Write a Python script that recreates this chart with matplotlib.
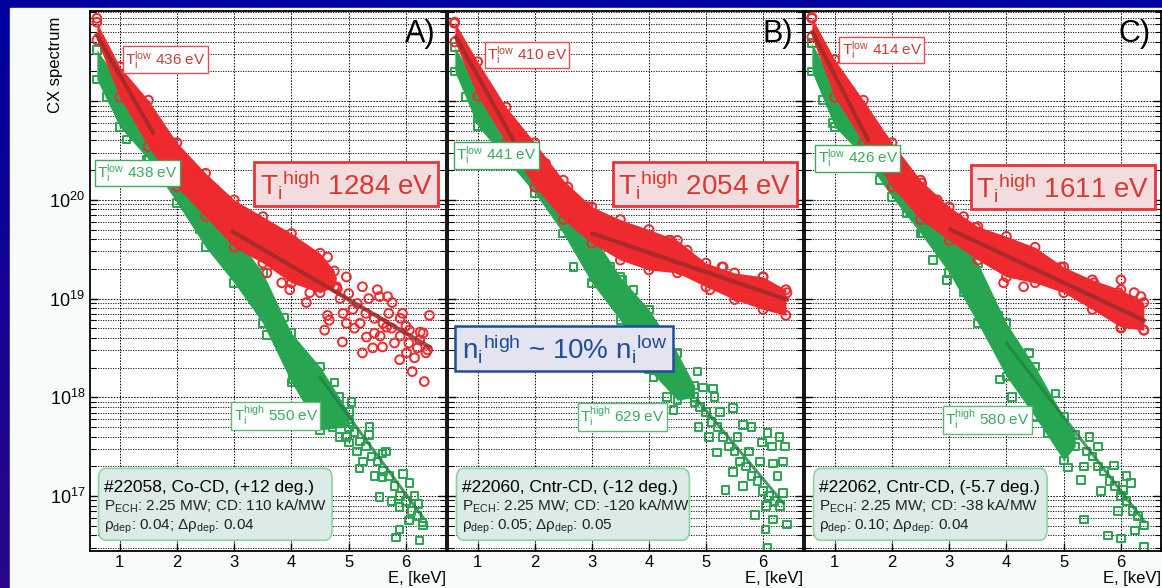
import numpy as np
import matplotlib.pyplot as plt
from matplotlib.patches import Rectangle, FancyBboxPatch
from matplotlib.ticker import LogLocator, NullFormatter, FuncFormatter

plt.rcParams['font.family'] = ['Liberation Sans', 'DejaVu Sans']
plt.rcParams['mathtext.default'] = 'regular'

# values as log10(CX spectrum)
# ---- panel A: #22058
red_a_E = [0.6, 1.0, 1.5, 2.0, 2.5, 3.0, 3.5, 4.0, 4.5, 4.75]
red_a_hi = [21.80, 21.35, 21.01, 20.58, 20.27, 20.00, 19.83, 19.66, 19.46, 19.28]
red_a_lo = [21.62, 21.04, 20.54, 20.13, 19.83, 19.52, 19.36, 19.16, 19.06, 19.12]
red_a_pts_E = [0.60, 3.39, 3.79, 4.02, 4.63, 4.96, 5.24, 5.50, 5.68, 4.79, 4.32, 3.83, 3.57,
               3.97, 4.26, 4.63, 4.66, 4.58, 4.89, 5.24, 5.42, 5.59, 5.89, 6.11, 6.32, 6.38,
               6.41, 5.94, 5.76, 5.54, 5.07, 4.96, 5.31, 5.66, 6.06, 6.24, 6.01, 4.70, 4.85,
               5.00, 5.15, 5.30, 5.45, 5.60, 5.75, 5.90, 6.05, 6.20, 6.35, 5.10, 5.45, 5.80,
               6.15, 4.90, 5.35, 5.90, 6.30, 1.75, 1.92, 2.17, 2.62, 2.80, 3.10, 3.74, 4.45,
               5.20, 5.70, 6.00, 6.25, 4.80, 5.55]
red_a_pts = [21.84, 19.77, 19.66, 19.59, 19.42, 19.22, 19.12, 19.09, 19.02, 19.12, 19.06, 19.16,
             19.26, 19.09, 18.96, 18.83, 18.78, 18.68, 18.56, 18.45, 18.50, 18.51, 18.38, 18.26,
             18.16, 18.48, 18.83, 18.85, 18.96, 19.02, 18.89, 18.75, 18.61, 18.71, 18.68, 18.58,
             18.45, 19.20, 19.00, 19.05, 18.95, 18.85, 18.80, 18.75, 18.70, 18.62, 18.55, 18.50,
             18.45, 18.70, 18.65, 18.55, 18.40, 18.85, 19.00, 18.80, 18.65, 20.66, 20.58, 20.37,
             20.10, 19.92, 19.83, 19.66, 19.35, 18.75, 18.85, 18.72, 18.66, 19.10, 18.62]
green_a_E = [0.6, 1.0, 1.5, 2.0, 2.5, 3.0, 3.5, 4.0, 4.5, 5.0]
green_a_hi = [21.52, 21.19, 20.81, 20.48, 20.07, 19.66, 19.26, 18.65, 18.31, 17.85]
green_a_lo = [21.22, 20.74, 20.41, 19.97, 19.52, 19.16, 18.75, 18.15, 17.67, 17.70]
green_a_pts_E = [3.57, 3.88, 4.02, 4.20, 4.84, 4.32, 4.72, 4.84, 5.36, 5.01, 5.59, 5.54, 5.83,
                 5.89, 6.24, 6.06, 6.29, 5.89, 5.19, 5.59, 4.60, 4.70, 4.80, 4.90, 5.00, 5.10,
                 5.20, 5.30, 5.40, 5.50, 5.60, 5.70, 5.80, 5.90, 6.00, 6.10, 6.20, 6.30, 4.65,
                 4.95, 5.25, 5.45, 5.75, 6.05, 6.15, 5.65, 5.05, 4.75, 0.77, 1.12, 1.47, 2.40,
                 2.69, 2.97, 3.22, 3.32, 5.15, 5.35, 5.95, 6.22, 4.45]
green_a_pts = [18.63, 18.81, 18.18, 18.09, 18.00, 17.97, 17.70, 17.60, 17.70, 17.54, 17.43,
               16.99, 16.58, 16.66, 16.55, 17.13, 16.73, 16.89, 17.28, 17.19, 18.10, 17.95,
               17.90, 17.80, 17.75, 17.65, 17.55, 17.50, 17.40, 17.35, 17.25, 17.20, 17.10,
               17.00, 16.95, 16.85, 16.80, 16.70, 17.80, 17.60, 17.35, 17.20, 16.95, 16.75,
               17.00, 17.45, 17.95, 18.15, 21.04, 20.61, 20.41, 19.70, 19.59, 19.32, 19.19,
               19.06, 17.45, 17.62, 17.22, 16.92, 17.85]
fit_a_lo_E, fit_a_lo = [0.60, 1.58], [21.67, 20.68]
fit_a_hi_E, fit_a_hi = [2.97, 6.41], [19.68, 18.51]
fit_a_g_E, fit_a_g = [4.50, 6.30], [18.20, 16.78]

# ---- panel B: #22060
red_b_E = [0.6, 1.0, 1.5, 2.0, 2.5, 3.0, 3.5, 4.0, 4.5, 5.0, 5.5, 6.0, 6.4]
red_b_hi = [21.80, 21.40, 20.94, 20.58, 20.20, 19.93, 19.80, 19.70, 19.59, 19.36, 19.26, 19.22, 19.09]
red_b_lo = [21.60, 21.05, 20.58, 20.13, 19.80, 19.56, 19.39, 19.29, 19.26, 19.12, 18.99, 18.89, 18.83]
red_b_pts_E = [0.59, 2.19, 2.89, 3.47, 3.85, 4.34, 5.28, 6.00, 6.42, 5.07, 5.55, 4.67, 1.88,
               2.58, 2.93, 3.80, 4.38, 5.30, 3.97, 4.55, 4.90, 5.47, 6.17]
red_b_pts = [21.79, 20.37, 19.88, 19.70, 19.66, 19.59, 19.32, 19.22, 19.06, 19.09, 19.02, 19.49,
             20.58, 20.13, 19.93, 19.66, 19.59, 19.32, 19.36, 19.29, 19.22, 19.06, 19.02]
green_b_E = [0.6, 1.0, 1.5, 2.0, 2.5, 3.0, 3.5, 4.0, 4.5, 4.8]
green_b_hi = [21.55, 21.15, 20.74, 20.44, 20.07, 19.66, 19.22, 18.89, 18.45, 18.12]
green_b_lo = [21.30, 20.75, 20.41, 20.07, 19.66, 19.16, 18.78, 18.28, 17.97, 18.00]
green_b_pts_E = [4.85, 5.12, 4.95, 5.47, 5.65, 5.98, 6.16, 6.38, 6.29, 6.08, 5.80, 5.34, 5.47,
                 5.86, 6.17, 6.42, 6.04, 6.08, 4.08, 4.32, 4.43, 4.87, 5.19, 6.17, 6.35, 4.60,
                 4.70, 4.80, 4.90, 5.00, 5.10, 5.20, 5.30, 5.40, 5.50, 5.60, 5.70, 5.80, 5.90,
                 6.00, 6.10, 6.20, 6.30, 5.05, 5.25, 5.55, 5.75, 5.95, 6.25, 5.15, 5.65, 6.05,
                 6.35, 0.80, 1.00, 1.29, 1.93, 2.33, 2.68, 3.03, 3.33, 3.54, 3.73]
green_b_pts = [18.26, 18.09, 18.10, 17.89, 17.72, 17.54, 17.50, 17.50, 17.60, 17.64, 17.70,
               17.06, 17.24, 16.81, 16.76, 16.71, 16.66, 16.47, 18.20, 18.00, 17.87, 17.70,
               17.44, 17.33, 17.03, 18.15, 18.05, 17.95, 17.90, 17.85, 17.75, 17.70, 17.60,
               17.50, 17.45, 17.35, 17.30, 17.20, 17.15, 17.05, 17.00, 16.95, 16.90, 17.60,
               17.85, 17.60, 17.45, 17.35, 17.20, 18.00, 17.10, 16.90, 17.35, 21.04, 20.84,
               20.68, 20.23, 19.93, 19.32, 19.22, 19.32, 19.19, 19.09]
fit_b_lo_E, fit_b_lo = [0.62, 1.62], [21.65, 20.61]
fit_b_hi_E, fit_b_hi = [3.01, 6.42], [19.66, 18.99]
fit_b_g_E, fit_b_g = [4.85, 6.35], [17.97, 16.93]

# ---- panel C: #22062
red_c_E = [0.6, 1.0, 1.5, 2.0, 2.5, 3.0, 3.5, 4.0, 4.5, 5.0, 5.5, 6.0, 6.4]
red_c_hi = [21.85, 21.42, 21.01, 20.58, 20.20, 19.93, 19.73, 19.63, 19.52, 19.32, 19.19, 19.09, 18.96]
red_c_lo = [21.65, 21.04, 20.58, 20.13, 19.80, 19.59, 19.39, 19.22, 19.16, 19.06, 18.89, 18.71, 18.68]
red_c_pts_E = [2.79, 3.25, 3.46, 3.95, 4.30, 4.65, 5.25, 5.53, 5.96, 6.23, 5.77, 6.00, 6.35, 6.40,
               2.14, 2.52, 4.95, 6.00, 0.60]
red_c_pts = [20.00, 19.83, 19.72, 19.16, 19.12, 19.32, 19.12, 19.16, 19.06, 19.06, 18.89,
             18.70, 19.02, 18.68, 20.37, 20.17, 19.32, 19.19, 21.84]
green_c_E = [0.6, 1.0, 1.5, 2.0, 2.5, 3.0, 3.5, 4.0, 4.5, 5.0, 5.2]
green_c_hi = [21.59, 21.15, 20.78, 20.44, 20.07, 19.73, 19.36, 18.75, 18.31, 17.80, 17.62]
green_c_lo = [21.30, 20.74, 20.44, 20.03, 19.66, 19.26, 18.75, 18.21, 17.80, 17.36, 17.50]
green_c_pts_E = [3.86, 4.39, 3.89, 4.10, 4.86, 4.72, 5.07, 5.35, 5.60, 5.88, 6.18, 5.77, 6.00,
                 6.40, 6.04, 5.30, 5.40, 5.50, 5.60, 5.70, 5.80, 5.90, 6.00, 6.10, 6.20, 6.30,
                 6.40, 5.35, 5.65, 5.95, 6.25, 5.45, 6.10, 0.79, 0.96, 1.39, 1.79, 2.26, 2.54,
                 2.72, 2.96, 3.25]
green_c_pts = [18.83, 18.45, 18.18, 18.00, 18.04, 17.64, 17.29, 16.76, 17.50, 17.31, 17.13,
               16.60, 16.57, 16.48, 17.06, 17.16, 17.45, 17.40, 17.30, 17.25, 17.15, 17.10,
               17.00, 16.95, 16.85, 16.80, 16.70, 17.30, 17.05, 16.85, 16.65, 17.60, 17.20,
               21.01, 20.78, 20.51, 20.20, 19.87, 19.66, 19.39, 19.19, 19.06]
fit_c_lo_E, fit_c_lo = [0.61, 1.58], [21.70, 20.61]
fit_c_hi_E, fit_c_hi = [3.02, 6.40], [19.70, 18.78]
fit_c_g_E, fit_c_g = [4.00, 6.40], [18.55, 16.75]

panel_tags = ['A)', 'B)', 'C)']
ti_low_red = ['436 eV', '410 eV', '414 eV']
ti_low_green = ['438 eV', '441 eV', '426 eV']
ti_high_red = ['1284 eV', '2054 eV', '1611 eV']
ti_high_green = ['550 eV', '629 eV', '580 eV']
shot_lines = ['#22058, Co-CD, (+12 deg.)', '#22060, Cntr-CD, (-12 deg.)', '#22062, Cntr-CD, (-5.7 deg.)']
cd_lines = ['110 kA/MW', '-120 kA/MW', '-38 kA/MW']
rho_lines = [('0.04', '0.04'), ('0.05', '0.05'), ('0.10', '0.04')]

RED = '#EE2A2E'
GREEN = '#28A550'
RED_FIT = '#9E2A2A'
GREEN_FIT = '#1E8440'


def v(a):
    return 10.0 ** np.asarray(a)


def band(ax, E, hi, lo, pE, p, color, marker, s, z):
    ax.fill_between(E, v(lo), v(hi), color=color, lw=0, zorder=z)
    for yy in (hi, lo):
        ax.scatter(E, v(yy), marker=marker, s=s, facecolors='none', edgecolors=color,
                   linewidths=1.4, zorder=z)
    ax.scatter(pE, v(p), marker=marker, s=s, facecolors='none', edgecolors=color,
               linewidths=1.4, zorder=z)


def ylab(val, pos):
    if val > 5e20:
        return ''
    return r'$10^{%d}$' % round(np.log10(val))


fig = plt.figure(figsize=(11.62, 5.88), dpi=100)

# slide background
bg = fig.add_axes([0, 0, 1, 1], zorder=0)
top = np.array([0, 0, 158]) / 255
bot = np.array([42, 8, 135]) / 255
t = np.linspace(0, 1, 200)[:, None, None]
bg.imshow(top + (bot - top) * t, aspect='auto', extent=[0, 1162, 588, 0])
bg.add_patch(Rectangle((10, 8), 1152, 580, color='#F7FBFC'))
bg.set_xlim(0, 1162)
bg.set_ylim(588, 0)
bg.axis('off')

panels = [
    (red_a_E, red_a_hi, red_a_lo, red_a_pts_E, red_a_pts, green_a_E, green_a_hi, green_a_lo,
     green_a_pts_E, green_a_pts, fit_a_lo_E, fit_a_lo, fit_a_hi_E, fit_a_hi, fit_a_g_E, fit_a_g),
    (red_b_E, red_b_hi, red_b_lo, red_b_pts_E, red_b_pts, green_b_E, green_b_hi, green_b_lo,
     green_b_pts_E, green_b_pts, fit_b_lo_E, fit_b_lo, fit_b_hi_E, fit_b_hi, fit_b_g_E, fit_b_g),
    (red_c_E, red_c_hi, red_c_lo, red_c_pts_E, red_c_pts, green_c_E, green_c_hi, green_c_lo,
     green_c_pts_E, green_c_pts, fit_c_lo_E, fit_c_lo, fit_c_hi_E, fit_c_hi, fit_c_g_E, fit_c_g),
]
lefts = [90, 448, 805]
widths = [356, 355, 356]
# label anchor positions (E, log10 y)
low_red_pos = [(1.10, 21.42), (1.16, 21.47), (1.12, 21.52)]
low_green_pos = [(0.60, 20.27), (0.62, 20.45), (0.70, 20.42)]
big_pos = [(4.96, 20.16), (4.98, 20.16), (4.98, 20.13)]
high_green_pos = [(2.99, 17.81), (2.80, 17.80), (2.93, 17.77)]

for i, d in enumerate(panels):
    (rE, rhi, rlo, rpE, rp, gE, ghi, glo, gpE, gp, flE, fl, fhE, fh, fgE, fg) = d
    ax = fig.add_axes([lefts[i] / 1162, 37 / 588, widths[i] / 1162, 540 / 588], zorder=2)
    ax.set_facecolor('white')
    ax.set_yscale('log')
    ax.set_xlim(0.48, 6.7)
    ax.set_ylim(2.77e16, 8.2e21)
    ax.set_xticks([1, 2, 3, 4, 5, 6])
    ax.yaxis.set_major_locator(LogLocator(base=10, numticks=20))
    ax.yaxis.set_major_formatter(FuncFormatter(ylab))
    ax.yaxis.set_minor_locator(LogLocator(base=10, subs=np.arange(2, 10), numticks=60))
    ax.yaxis.set_minor_formatter(NullFormatter())
    ax.grid(which='major', ls=(0, (1.5, 1.5)), color='k', lw=0.7)
    ax.grid(which='minor', axis='y', ls=(0, (1.5, 1.5)), color='k', lw=0.6)
    ax.set_axisbelow(True)
    ax.tick_params(which='both', direction='in', right=True)
    ax.tick_params(which='major', length=6, width=1)
    ax.tick_params(which='minor', length=4, width=0.8)
    ax.tick_params(axis='x', labelsize=12, pad=3)
    ax.tick_params(axis='y', labelsize=13)
    for sp in ax.spines.values():
        sp.set_linewidth(1.3)
    if i > 0:
        ax.tick_params(labelleft=False)
    else:
        ax.set_ylabel('CX spectrum', fontsize=12)
        ax.yaxis.set_label_coords(-0.076, 0.9)
    ax.set_xlabel('E, [keV]', fontsize=12)
    ax.xaxis.set_label_coords(1.0, -0.05)
    ax.xaxis.label.set_ha('right')
    ax.xaxis.label.set_va('center')

    band(ax, gE, ghi, glo, gpE, gp, GREEN, 's', 30, 2)
    band(ax, rE, rhi, rlo, rpE, rp, RED, 'o', 40, 3)
    ax.plot(fgE, v(fg), color=GREEN_FIT, lw=2.2, alpha=0.8, zorder=4)
    ax.plot(flE, v(fl), color=RED_FIT, lw=3, alpha=0.85, zorder=4)
    ax.plot(fhE, v(fh), color=RED_FIT, lw=3, alpha=0.85, zorder=4)

    ax.text(0.972, 0.985, panel_tags[i], transform=ax.transAxes, ha='right', va='top',
            fontsize=22, zorder=6)

    x, y = low_red_pos[i]
    ax.text(x, 10 ** y, r'$T_i^{low}$ ' + ti_low_red[i], fontsize=11, color='#C0403A',
            va='center', ha='left', zorder=6,
            bbox=dict(boxstyle='square,pad=0.15', fc='white', ec='#EE4A4E', lw=1))
    x, y = low_green_pos[i]
    ax.text(x, 10 ** y, r'$T_i^{low}$ ' + ti_low_green[i], fontsize=11, color='#3AAA5C',
            va='center', ha='left', zorder=6,
            bbox=dict(boxstyle='square,pad=0.15', fc='white', ec='#3AAA5C', lw=1))
    x, y = big_pos[i]
    ax.text(x, 10 ** y, r'$T_i{}^{high}$ ' + ti_high_red[i], fontsize=20, color='#D83A33',
            va='center', ha='center', zorder=6,
            bbox=dict(boxstyle='square,pad=0.2', fc='#F3DCDD', ec='#E8343A', lw=2))
    x, y = high_green_pos[i]
    ax.text(x, 10 ** y, r'$T_i^{high}$ ' + ti_high_green[i], fontsize=11, color='#3AAA5C',
            va='center', ha='left', zorder=6,
            bbox=dict(boxstyle='square,pad=0.15', fc='white', ec='#5CBB74', lw=1))

    # info box
    ax.add_patch(FancyBboxPatch((0.024, 0.02), 0.656, 0.133,
                                boxstyle='round,pad=0,rounding_size=0.02',
                                transform=ax.transAxes, fc='#DDEBE8', ec='#8ED49F', lw=1.2,
                                zorder=6))
    ax.text(0.04, 0.118, shot_lines[i], transform=ax.transAxes, fontsize=12.5,
            va='center', ha='left', zorder=7)
    ax.text(0.04, 0.082, r'$P_{ECH}$: 2.25 MW; CD: ' + cd_lines[i], transform=ax.transAxes,
            fontsize=11, va='center', ha='left', zorder=7, color='#222222')
    ax.text(0.04, 0.045, r'$\rho_{dep}$: ' + rho_lines[i][0] + r'; $\Delta\rho_{dep}$: ' + rho_lines[i][1],
            transform=ax.transAxes, fontsize=11, va='center', ha='left', zorder=7, color='#222222')

    if i == 1:
        ax.text(2.52, 3.1e18, r'$n_i{}^{high}$ ~ 10% $n_i{}^{low}$', fontsize=20, color='#1F4E99',
                va='center', ha='center', zorder=8,
                bbox=dict(boxstyle='square,pad=0.22', fc='#E4E4F0', ec='#1F4E99', lw=1.8))

plt.savefig('out.png', dpi=100)
